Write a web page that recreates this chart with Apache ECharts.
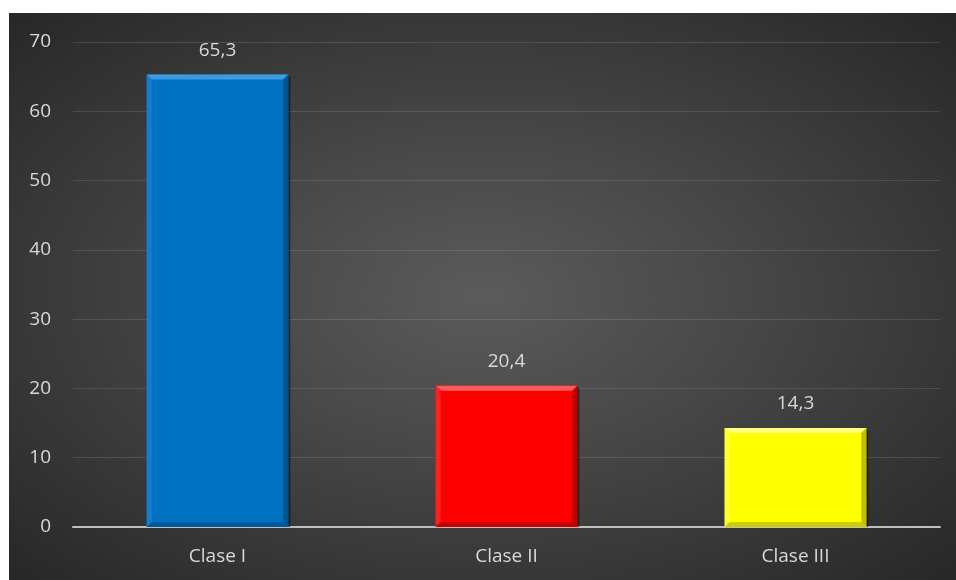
<!DOCTYPE html>
<html>
<head>
<meta charset="utf-8">
<script src="https://cdn.jsdelivr.net/npm/echarts@6/dist/echarts.min.js"></script>
<style>
  html, body { margin: 0; padding: 0; background: #ffffff; }
  #chart {
    position: absolute; left: 9px; top: 13px; width: 947px; height: 567px;
    background: radial-gradient(ellipse at 50% 50%, #5b5b5b 0%, #474747 40%, #272727 100%);
  }
</style>
</head>
<body>
<div id="chart"></div>
<script>
// Categories and values
const categories = ['Clase I', 'Clase II', 'Clase III'];
const values = [65.3, 20.4, 14.3];
const yTicks = [0, 10, 20, 30, 40, 50, 60, 70];

// Face colour and bevel shades for each bar: [face, light edge, side edge, dark edge]
const barPalettes = [
  ['#0070C0', '#3D9BE0', '#137FCC', '#00558F'],
  ['#FF0000', '#FF5A5A', '#FF2020', '#BB0000'],
  ['#FFFF00', '#FFFF80', '#FFFF30', '#C0C000']
];

const chart = echarts.init(document.getElementById('chart'), null, { renderer: 'canvas' });

function fmt(v) { return String(v).replace('.', ','); }

function renderBevelBar(params, api) {
  const idx = api.value(0);
  const v = api.value(1);
  const top = api.coord([idx, v]);
  const base = api.coord([idx, 0]);
  const band = api.size([1, 0])[0];
  const w = band * 0.49;
  const x0 = top[0] - w / 2, x1 = top[0] + w / 2;
  const y0 = top[1], y1 = base[1];
  const b = 5;
  const pal = barPalettes[idx];
  return {
    type: 'group',
    children: [
      { type: 'rect', shape: { x: x0 + 2, y: y0 + 2, width: w, height: y1 - y0 - 2 },
        style: { fill: 'rgba(0,0,0,0.5)' } },
      { type: 'rect', shape: { x: x0, y: y0, width: w, height: y1 - y0 },
        style: { fill: pal[0] } },
      { type: 'polygon', shape: { points: [[x0, y0], [x1, y0], [x1 - b, y0 + b], [x0 + b, y0 + b]] },
        style: { fill: pal[1] } },
      { type: 'polygon', shape: { points: [[x0, y0], [x0 + b, y0 + b], [x0 + b, y1 - b], [x0, y1]] },
        style: { fill: pal[2] } },
      { type: 'polygon', shape: { points: [[x1, y0], [x1, y1], [x1 - b, y1 - b], [x1 - b, y0 + b]] },
        style: { fill: pal[3] } },
      { type: 'polygon', shape: { points: [[x0, y1], [x0 + b, y1 - b], [x1 - b, y1 - b], [x1, y1]] },
        style: { fill: pal[3], opacity: 0.8 } },
      { type: 'text', x: top[0], y: y0 - 24,
        style: { text: fmt(v), fill: '#D9D9D9', fontSize: 19, fontFamily: 'Open Sans, sans-serif',
                 align: 'center', verticalAlign: 'middle' } }
    ]
  };
}

chart.setOption({
  backgroundColor: 'transparent',
  animation: false,
  grid: { left: 64, right: 16, top: 29, bottom: 53 },
  xAxis: {
    type: 'category',
    data: categories,
    axisLine: { lineStyle: { color: '#BFBFBF', width: 2 } },
    axisTick: { show: false },
    axisLabel: { color: '#D9D9D9', fontSize: 19, margin: 20, fontFamily: 'Open Sans, sans-serif' }
  },
  yAxis: {
    type: 'value',
    min: yTicks[0],
    max: yTicks[yTicks.length - 1],
    interval: 10,
    axisLine: { show: false },
    axisTick: { show: false },
    axisLabel: { color: '#D9D9D9', fontSize: 19, margin: 22, fontFamily: 'Open Sans, sans-serif' },
    splitLine: { lineStyle: { color: 'rgba(255,255,255,0.12)', width: 1 } }
  },
  series: [{
    type: 'custom',
    renderItem: renderBevelBar,
    encode: { x: 0, y: 1 },
    data: values.map((v, i) => [i, v]),
    z: 3
  }]
});
</script>
</body>
</html>
